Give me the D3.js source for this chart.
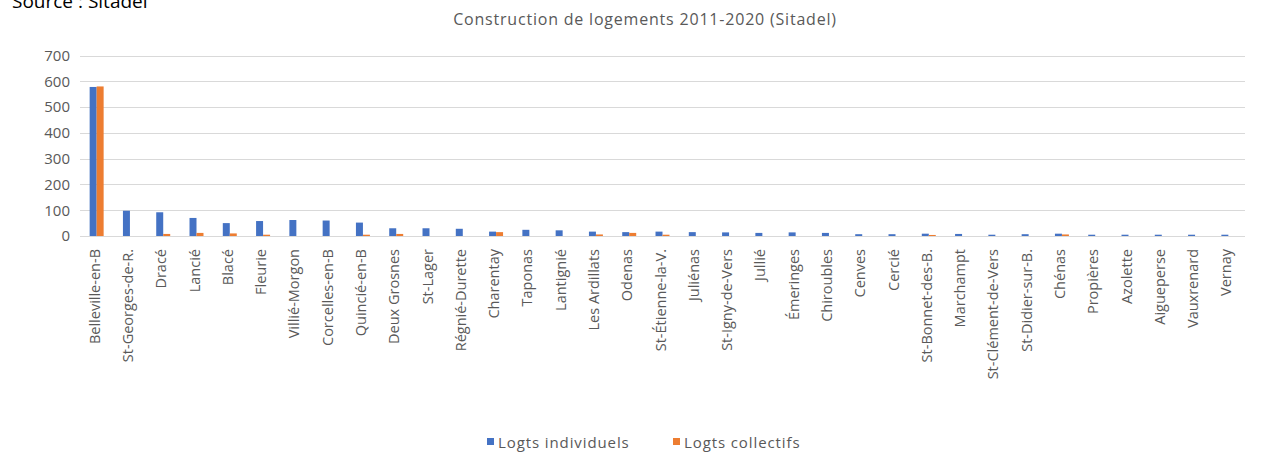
<!DOCTYPE html>
<html lang="fr">
<head>
<meta charset="utf-8">
<script src="https://cdn.jsdelivr.net/npm/d3@7"></script>
<style>
  html, body { margin: 0; padding: 0; background: #fff; }
  svg { display: block; font-family: "Open Sans", "Liberation Sans", sans-serif; }
</style>
</head>
<body>
<svg id="chart" width="1262" height="454"></svg>
<script>
// Communes (ordre décroissant des logements individuels)
const communes = [
  "Belleville-en-B", "St-Georges-de-R.", "Dracé", "Lancié", "Blacé", "Fleurie",
  "Villié-Morgon", "Corcelles-en-B", "Quincié-en-B", "Deux Grosnes", "St-Lager",
  "Régnié-Durette", "Charentay", "Taponas", "Lantignié", "Les Ardillats", "Odenas",
  "St-Étienne-la-V.", "Juliénas", "St-Igny-de-Vers", "Jullié", "Émeringes",
  "Chiroubles", "Cenves", "Cercié", "St-Bonnet-des-B.", "Marchampt",
  "St-Clément-de-Vers", "St-Didier-sur-B.", "Chénas", "Propières", "Azolette",
  "Aigueperse", "Vauxrenard", "Vernay"
];
const logtsIndividuels = [
  578, 98, 92, 70, 50, 58, 62, 60, 52, 30, 30,
  28, 17, 24, 22, 17, 15, 17, 15, 14, 12, 14,
  12, 7, 7, 9, 8, 5, 7, 9, 5, 5, 5, 5, 5
];
const logtsCollectifs = [
  580, 0, 8, 12, 10, 5, 0, 0, 5, 8, 0,
  0, 15, 0, 0, 6, 12, 5, 0, 0, 0, 0,
  0, 0, 0, 4, 0, 0, 0, 6, 0, 0, 0, 0, 0
];
const seriesNames = ["Logts individuels", "Logts collectifs"];
const seriesColors = ["#4472C4", "#ED7D31"];
const yTicks = [0, 100, 200, 300, 400, 500, 600, 700];

const rows = communes.map((c, i) => ({
  commune: c,
  values: [logtsIndividuels[i], logtsCollectifs[i]]
}));

const svg = d3.select("#chart");
const textColor = "#595959";

const x0 = d3.scaleBand()
  .domain(communes)
  .range([80, 1245])
  .paddingInner(0.58)
  .paddingOuter(0.29);
const x1 = d3.scaleBand()
  .domain(seriesNames)
  .range([0, x0.bandwidth()]);
const y = d3.scaleLinear().domain([0, 700]).range([236, 55.5]);
const color = d3.scaleOrdinal().domain(seriesNames).range(seriesColors);

// Grille horizontale
svg.append("g")
  .selectAll("line")
  .data(yTicks)
  .join("line")
  .attr("x1", 80).attr("x2", 1245)
  .attr("y1", d => Math.round(y(d)) + 0.5)
  .attr("y2", d => Math.round(y(d)) + 0.5)
  .attr("stroke", "#d9d9d9")
  .attr("stroke-width", 1);

// Axe des ordonnées (libellés seulement)
const yAxis = d3.axisLeft(y).tickValues(yTicks).tickSize(0).tickPadding(0);
const yg = svg.append("g").attr("transform", "translate(70,0)").call(yAxis);
yg.select(".domain").remove();
yg.selectAll("text")
  .attr("fill", textColor)
  .style("font-size", "15px")
  .style("font-family", "'Open Sans', sans-serif");

// Barres groupées
const groups = svg.append("g")
  .selectAll("g")
  .data(rows)
  .join("g")
  .attr("transform", d => `translate(${x0(d.commune)},0)`);
groups.selectAll("rect")
  .data(d => d.values.map((v, k) => ({ key: seriesNames[k], value: v })))
  .join("rect")
  .attr("x", d => x1(d.key))
  .attr("width", x1.bandwidth())
  .attr("y", d => y(d.value))
  .attr("height", d => y(0) - y(d.value))
  .attr("fill", d => color(d.key));

// Axe des abscisses : libellés verticaux
const xAxis = d3.axisBottom(x0).tickSize(0).tickPadding(0);
const xg = svg.append("g").attr("transform", "translate(-2,249)").call(xAxis);
xg.select(".domain").remove();
xg.selectAll("text")
  .attr("fill", textColor)
  .style("font-size", "14.5px")
  .style("font-family", "'Open Sans', sans-serif")
  .attr("text-anchor", "end")
  .attr("dy", "0.35em")
  .attr("y", 0)
  .attr("transform", "rotate(-90)");

// Titre
svg.append("text")
  .attr("x", 645).attr("y", 19)
  .attr("text-anchor", "middle")
  .attr("dominant-baseline", "central")
  .attr("fill", textColor)
  .style("font-size", "16px")
  .style("letter-spacing", "0.8px")
  .text("Construction de logements 2011-2020 (Sitadel)");

// Source
svg.append("text")
  .attr("x", 12).attr("y", 8)
  .attr("fill", "#000")
  .style("font-size", "19px")
  .text("Source : Sitadel");

// Légende
const legendX = [487, 673];
const legend = svg.append("g")
  .selectAll("g")
  .data(seriesNames)
  .join("g")
  .attr("transform", (d, i) => `translate(${legendX[i]},442)`);
legend.append("rect")
  .attr("x", 0).attr("y", -4)
  .attr("width", 7).attr("height", 7)
  .attr("fill", d => color(d));
legend.append("text")
  .attr("x", 11).attr("y", 0)
  .attr("dominant-baseline", "central")
  .attr("fill", textColor)
  .style("font-size", "15px")
  .style("letter-spacing", "0.9px")
  .text(d => d);
</script>
</body>
</html>
